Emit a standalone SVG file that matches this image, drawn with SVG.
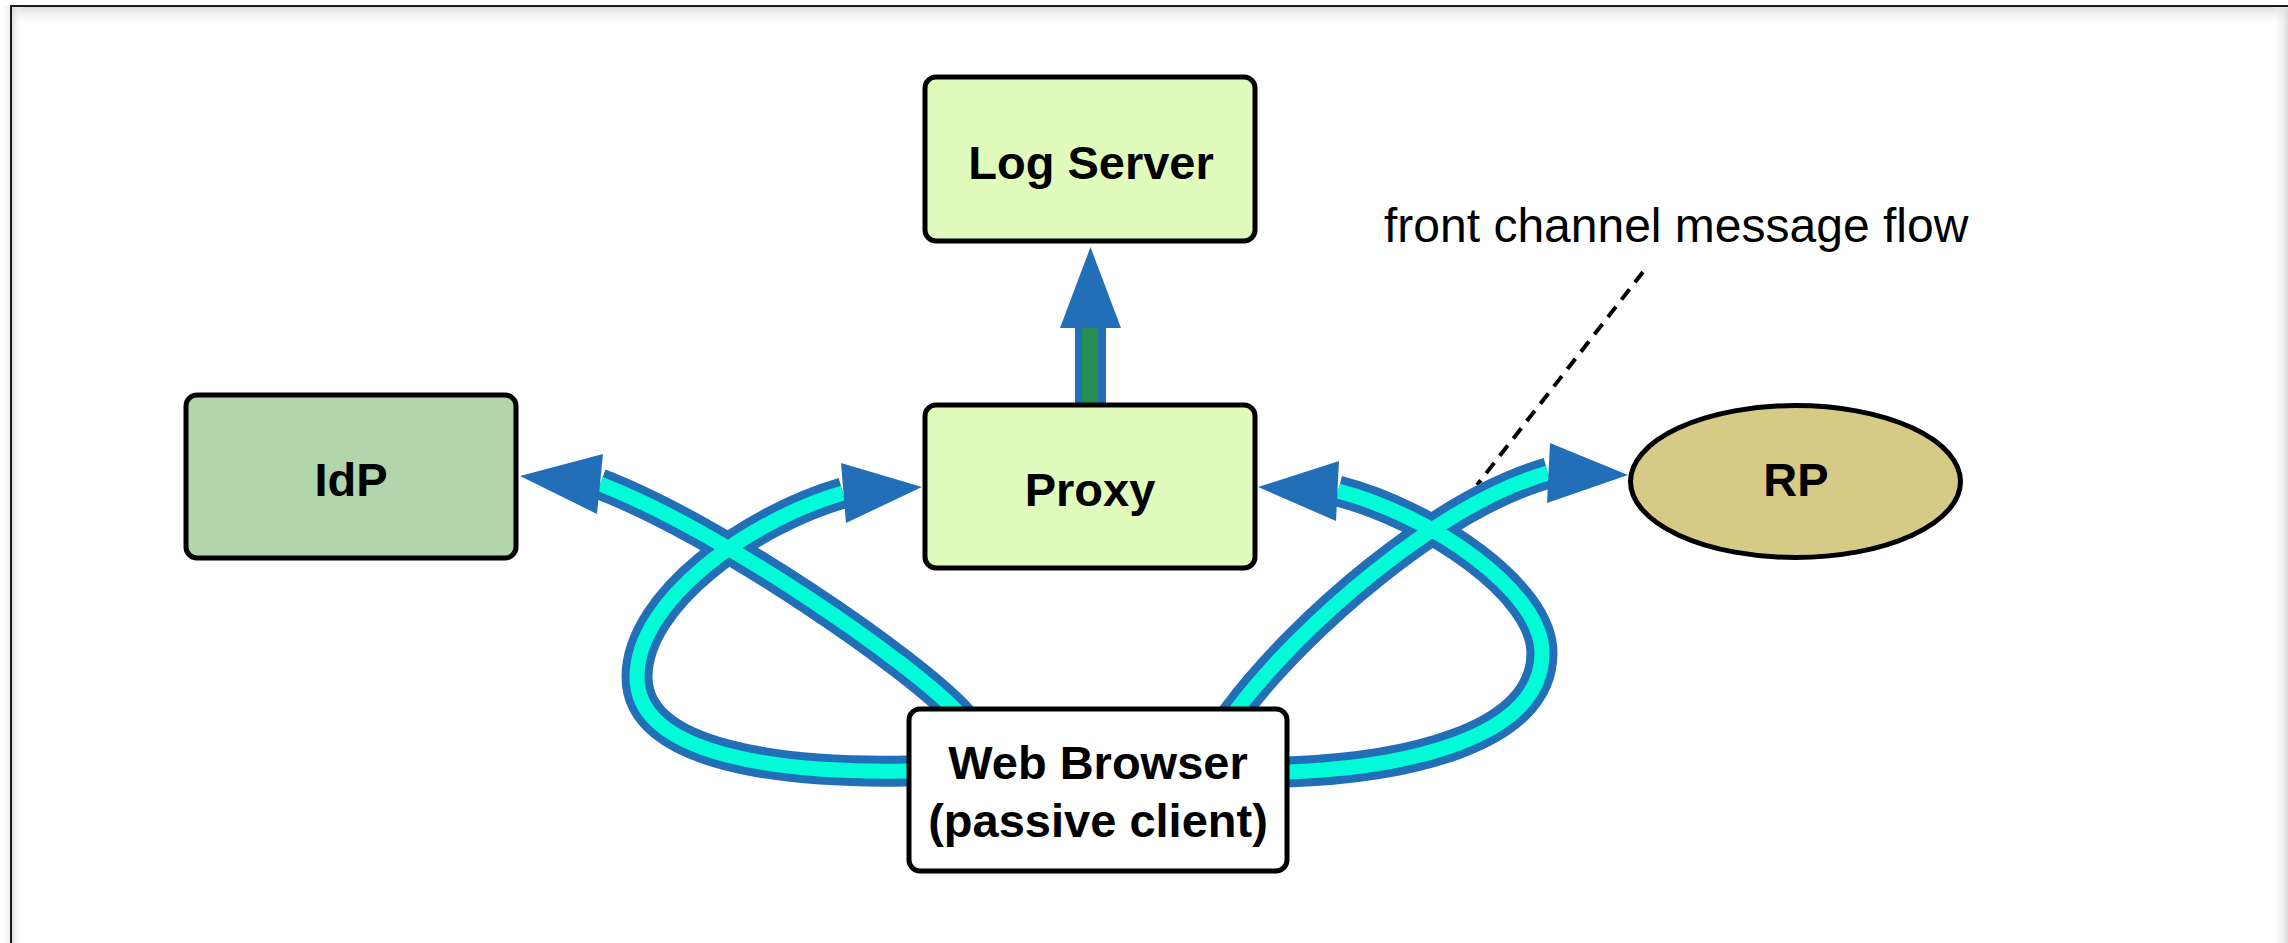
<svg xmlns="http://www.w3.org/2000/svg" width="2288" height="943" viewBox="0 0 2288 943">
  <defs>
    <linearGradient id="shadeTop" x1="0" y1="0" x2="0" y2="1">
      <stop offset="0" stop-color="#d8d8d8" stop-opacity="0.9"/>
      <stop offset="1" stop-color="#ffffff" stop-opacity="0"/>
    </linearGradient>
    <linearGradient id="shadeLeft" x1="0" y1="0" x2="1" y2="0">
      <stop offset="0" stop-color="#d8d8d8" stop-opacity="0.9"/>
      <stop offset="1" stop-color="#ffffff" stop-opacity="0"/>
    </linearGradient>
    <linearGradient id="shadeRight" x1="0" y1="0" x2="1" y2="0">
      <stop offset="0" stop-color="#ffffff" stop-opacity="0"/>
      <stop offset="1" stop-color="#dcdcdc" stop-opacity="1"/>
    </linearGradient>
    <linearGradient id="shadeOut" x1="0" y1="0" x2="1" y2="0">
      <stop offset="0" stop-color="#ffffff" stop-opacity="0"/>
      <stop offset="1" stop-color="#ececec" stop-opacity="1"/>
    </linearGradient>
  </defs>
  <style>
    .box { stroke: #000; stroke-width: 5; }
    .light { fill: #e0fbbc; }
    .idp { fill: #b3d5ab; }
    .rp { fill: #d6ca87; }
    .plain { fill: #ffffff; }
    .label { font-family: "Liberation Sans", Arial, Helvetica, sans-serif; font-weight: bold; font-size: 47px; fill: #000; text-anchor: middle; }
    .note { font-family: "Liberation Sans", Arial, Helvetica, sans-serif; font-size: 48px; fill: #000; }
    .flow-outer { fill: none; stroke: #236fb7; stroke-width: 31; }
    .flow-inner { fill: none; stroke: #00fbd8; stroke-width: 15; }
    .head { fill: #236fb7; }
  </style>

  <rect width="2288" height="943" fill="#ffffff"/>

  <!-- page frame with soft edge shading -->
  <g id="frame">
    <rect x="0" y="6" width="11" height="937" fill="url(#shadeOut)"/>
    <rect x="11" y="7" width="2277" height="20" fill="url(#shadeTop)"/>
    <rect x="12" y="7" width="10" height="936" fill="url(#shadeLeft)"/>
    <rect x="2272" y="7" width="16" height="936" fill="url(#shadeRight)"/>
    <line x1="10" y1="6" x2="2288" y2="6" stroke="#1a1a1a" stroke-width="2"/>
    <line x1="11" y1="5" x2="11" y2="943" stroke="#1a1a1a" stroke-width="2"/>
  </g>

  <!-- connectors -->
  <g id="connectors">
    <!-- proxy to log server -->
    <rect x="1075" y="325" width="31" height="82" fill="#236fb7"/>
    <rect x="1082" y="325" width="16" height="82" fill="#268d51"/>
    <polygon class="head" points="1090.5,247 1060,328 1121,328"/>

    <!-- annotation leader -->
    <line x1="1643" y1="272" x2="1477" y2="485" stroke="#000" stroke-width="4" stroke-dasharray="13 9"/>

    <!-- front channel flows: outlines first, then fills so crossings merge -->
    <path class="flow-outer" d="M975,732 L960,715 C915,665 720,530 600,484"/>
    <path class="flow-outer" d="M925,771 L905,771 C785,773 637,757 637,677 C637,600 750,520 843,493"/>
    <path class="flow-outer" d="M1226,724 L1235,712 C1301,624 1438,505 1548,473"/>
    <path class="flow-outer" d="M1270,772 L1288,772 C1400,768 1542,740 1542,653 C1542,590 1430,515 1338,491"/>

    <path class="flow-inner" d="M975,732 L960,715 C915,665 720,530 600,484"/>
    <path class="flow-inner" d="M925,771 L905,771 C785,773 637,757 637,677 C637,600 750,520 843,493"/>
    <path class="flow-inner" d="M1226,724 L1235,712 C1301,624 1438,505 1548,473"/>
    <path class="flow-inner" d="M1270,772 L1288,772 C1400,768 1542,740 1542,653 C1542,590 1430,515 1338,491"/>

    <polygon class="head" points="520,476 603,454 597,514"/>
    <polygon class="head" points="922,487 841,463 846,523"/>
    <polygon class="head" points="1258,487 1339,461 1336,521"/>
    <polygon class="head" points="1628,475 1550,443 1547,503"/>
  </g>

  <g id="log-server">
    <rect class="box light" x="925" y="77" width="330" height="164" rx="11"/>
    <text class="label" x="1091" y="179">Log Server</text>
  </g>

  <g id="proxy">
    <rect class="box light" x="925" y="405" width="330" height="163" rx="11"/>
    <text class="label" x="1090" y="506">Proxy</text>
  </g>

  <g id="idp">
    <rect class="box idp" x="186" y="395" width="330" height="163" rx="11"/>
    <text class="label" x="351" y="496">IdP</text>
  </g>

  <g id="rp">
    <ellipse class="box rp" cx="1795.5" cy="481.5" rx="165" ry="76"/>
    <text class="label" x="1796" y="496">RP</text>
  </g>

  <g id="web-browser">
    <rect class="box plain" x="909" y="709" width="378" height="162" rx="11"/>
    <text class="label" x="1098" y="779">Web Browser</text>
    <text class="label" x="1098" y="837">(passive client)</text>
  </g>

  <g id="note">
    <text class="note" x="1384" y="242">front channel message flow</text>
  </g>
</svg>
